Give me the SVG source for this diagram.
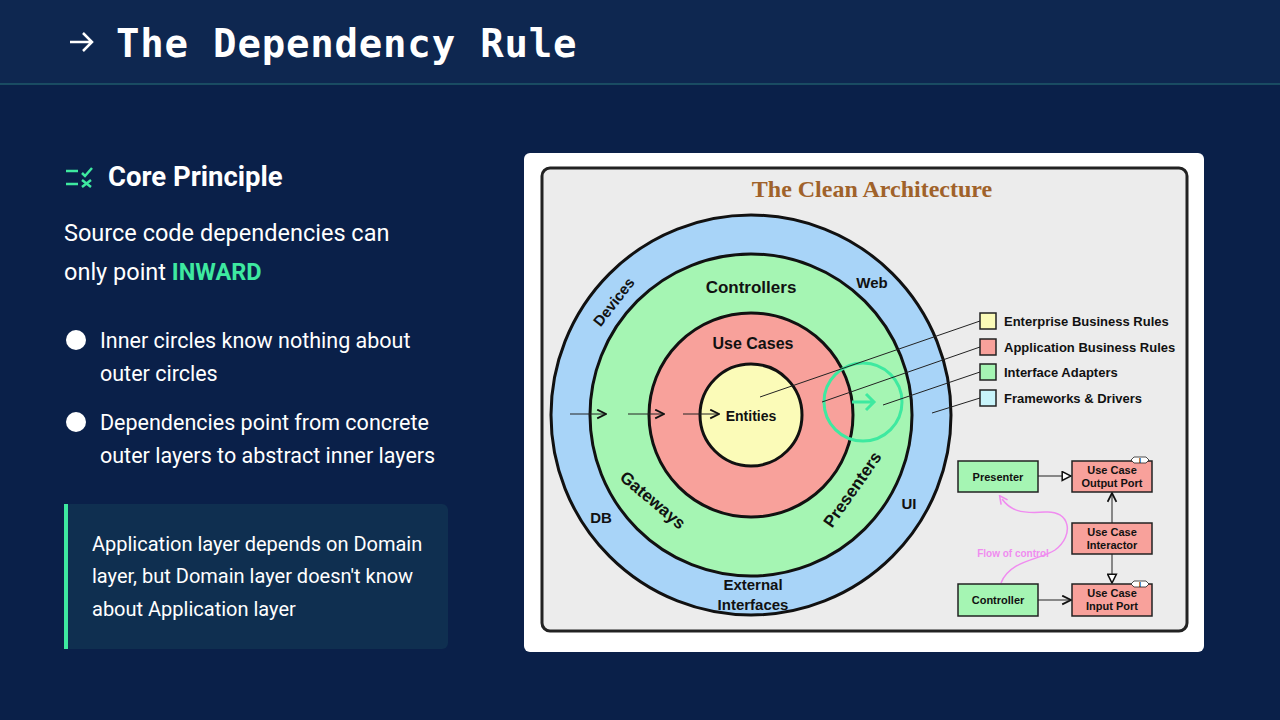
<svg xmlns="http://www.w3.org/2000/svg" width="1280" height="720" viewBox="0 0 1280 720">
<defs>
<marker id="ah" viewBox="0 0 10 10" refX="9" refY="5" markerWidth="11" markerHeight="11" markerUnits="userSpaceOnUse" orient="auto"><path d="M1,1 L9,5 L1,9" fill="none" stroke="#111" stroke-width="1.6"/></marker>
<marker id="tri" viewBox="0 0 10 10" refX="9" refY="5" markerWidth="11" markerHeight="11" markerUnits="userSpaceOnUse" orient="auto"><path d="M1,1 L9,5 L1,9 Z" fill="#fff" stroke="#111" stroke-width="1.4"/></marker>
<marker id="pk" viewBox="0 0 10 10" refX="5" refY="5" markerWidth="10" markerHeight="10" markerUnits="userSpaceOnUse" orient="auto"><path d="M1,1 L9,5 L1,9" fill="none" stroke="#f08cf0" stroke-width="1.6"/></marker>
</defs>
<style>
.w{fill:#fff;font-family:Roboto,"Liberation Sans",sans-serif}
.b{font-family:"Liberation Sans",Arial,sans-serif;font-weight:bold;fill:#111}
.ring{stroke:#111;stroke-width:3}
.box{stroke:#222;stroke-width:1.5}
.ln{stroke:#222;stroke-width:1}
.tag{fill:#fff;stroke:#222;stroke-width:0.8}
</style>
<rect width="1280" height="720" fill="#0a2049"/>
<rect width="1280" height="84" fill="#0e2750"/>
<line x1="0" y1="84" x2="1280" y2="84" stroke="#1f5a6a" stroke-width="1.5"/>
<path d="M70,42 H92 M83,33 L92,42 L83,51" fill="none" stroke="#fff" stroke-width="2.5"/>
<text x="116" y="57" font-family="'DejaVu Sans Mono','Liberation Mono',monospace" font-weight="bold" font-size="39" letter-spacing="0.8" fill="#fff">The Dependency Rule</text>

<g id="core">
<path d="M66,171 H78 M66,184 H78 M82,173 L85,176 L92,168 M82,180 L91,187 M91,180 L82,187" fill="none" stroke="#3ee9a0" stroke-width="2.5"/>
<text class="w" x="108" y="186" font-size="27.5" font-weight="bold">Core Principle</text>
<text class="w" x="64" y="241" font-size="23.5">Source code dependencies can</text>
<text class="w" x="64" y="280" font-size="23.5">only point <tspan fill="#3ee9a0" font-weight="bold">INWARD</tspan></text>
<circle cx="76" cy="340" r="10" fill="#fff"/>
<text class="w" x="100" y="348" font-size="21.5">Inner circles know nothing about</text>
<text class="w" x="100" y="381" font-size="21.5">outer circles</text>
<circle cx="76" cy="422" r="10" fill="#fff"/>
<text class="w" x="100" y="430" font-size="21.5">Dependencies point from concrete</text>
<text class="w" x="100" y="463" font-size="21.5">outer layers to abstract inner layers</text>
</g>
<g id="note">
<rect x="64" y="504" width="384" height="145" rx="6" fill="#0f2f50"/>
<rect x="64" y="504" width="4" height="145" fill="#3ee9a0"/>
<text class="w" x="92" y="551" font-size="20">Application layer depends on Domain</text>
<text class="w" x="92" y="583" font-size="20">layer, but Domain layer doesn't know</text>
<text class="w" x="92" y="616" font-size="20">about Application layer</text>
</g>

<g id="image">
<rect x="524" y="153" width="680" height="499" rx="6" fill="#fff"/>
<rect x="542" y="168" width="645" height="463" rx="8" fill="#ececec" stroke="#222" stroke-width="3"/>
<text x="872" y="197" text-anchor="middle" font-family="'Liberation Serif',serif" font-weight="bold" font-size="24" fill="#a0622a">The Clean Architecture</text>
<circle cx="751" cy="415" r="200" fill="#a8d4f8" class="ring"/>
<circle cx="751" cy="415" r="161" fill="#a5f5b3" class="ring"/>
<circle cx="751" cy="415" r="102" fill="#f8a19b" class="ring"/>
<circle cx="751" cy="415" r="51" fill="#fbfbb8" class="ring"/>
<text class="b" x="751" y="293" text-anchor="middle" font-size="17">Controllers</text>
<text class="b" x="753" y="349" text-anchor="middle" font-size="16">Use Cases</text>
<text class="b" x="751" y="421" text-anchor="middle" font-size="14">Entities</text>
<text class="b" x="872" y="288" text-anchor="middle" font-size="15">Web</text>
<text class="b" x="614" y="307" text-anchor="middle" font-size="15" transform="rotate(-52 614 302)">Devices</text>
<text class="b" x="653" y="506" text-anchor="middle" font-size="17" transform="rotate(40 653 500)">Gateways</text>
<text class="b" x="853" y="495" text-anchor="middle" font-size="17" transform="rotate(-55 853 490)">Presenters</text>
<text class="b" x="601" y="523" text-anchor="middle" font-size="15">DB</text>
<text class="b" x="909" y="509" text-anchor="middle" font-size="15">UI</text>
<text class="b" x="753" y="590" text-anchor="middle" font-size="15">External</text>
<text class="b" x="753" y="610" text-anchor="middle" font-size="15">Interfaces</text>
<circle cx="863" cy="402" r="39" fill="none" stroke="#3ee9a0" stroke-width="3"/>
<path d="M852,402 H873 M866,394 L874,402 L866,410" fill="none" stroke="#3ee9a0" stroke-width="3"/>
</g>
<g id="connectors">
<line x1="570" y1="414" x2="606" y2="414" class="ln" stroke-width="1.5" marker-end="url(#ah)"/>
<line x1="628" y1="414" x2="664" y2="414" class="ln" stroke-width="1.5" marker-end="url(#ah)"/>
<line x1="683" y1="414" x2="719" y2="414" class="ln" stroke-width="1.5" marker-end="url(#ah)"/>
<line x1="760" y1="397" x2="980" y2="321" class="ln"/>
<line x1="822" y1="402" x2="980" y2="347" class="ln"/>
<line x1="883" y1="405" x2="980" y2="372" class="ln"/>
<line x1="932" y1="413" x2="980" y2="398" class="ln"/>
<line x1="1038" y1="476" x2="1071" y2="476" class="ln" stroke-width="1.5" marker-end="url(#tri)"/>
<line x1="1112" y1="523" x2="1112" y2="493" class="ln" stroke-width="1.5" marker-end="url(#ah)"/>
<line x1="1112" y1="554" x2="1112" y2="583" class="ln" stroke-width="1.5" marker-end="url(#tri)"/>
<line x1="1038" y1="600" x2="1071" y2="600" class="ln" stroke-width="1.5" marker-end="url(#ah)"/>
<path d="M1001,583 C1010,560 1040,560 1055,550 C1075,535 1070,510 1045,512 C1020,514 1010,510 1002,499" fill="none" stroke="#f08cf0" stroke-width="1.5" marker-end="url(#pk)"/>
</g>
<g id="legend">
<rect x="980" y="313" width="16" height="16" fill="#fbfbb8" class="box"/>
<rect x="980" y="339" width="16" height="16" fill="#f8a19b" class="box"/>
<rect x="980" y="364" width="16" height="16" fill="#a5f5b3" class="box"/>
<rect x="980" y="390" width="16" height="16" fill="#c8f4fa" class="box"/>
<text class="b" x="1004" y="326" font-size="13">Enterprise Business Rules</text>
<text class="b" x="1004" y="352" font-size="13">Application Business Rules</text>
<text class="b" x="1004" y="377" font-size="13">Interface Adapters</text>
<text class="b" x="1004" y="403" font-size="13">Frameworks &amp; Drivers</text>
</g>
<g id="presenter"><rect x="958" y="461" width="80" height="31" fill="#a5f5b3" class="box"/><text class="b" x="998" y="481" text-anchor="middle" font-size="11">Presenter</text></g>
<g id="outport"><rect x="1072" y="461" width="80" height="31" fill="#f8a19b" class="box"/><text class="b" x="1112" y="474" text-anchor="middle" font-size="11">Use Case</text><text class="b" x="1112" y="487" text-anchor="middle" font-size="11">Output Port</text><path d="M1131,460 L1134,457 H1146 L1149,460 L1146,463 H1134 Z" class="tag"/><text class="b" x="1140" y="463" text-anchor="middle" font-size="7">I</text></g>
<g id="interactor"><rect x="1072" y="523" width="80" height="31" fill="#f8a19b" class="box"/><text class="b" x="1112" y="536" text-anchor="middle" font-size="11">Use Case</text><text class="b" x="1112" y="549" text-anchor="middle" font-size="11">Interactor</text></g>
<g id="inport"><rect x="1072" y="584" width="80" height="32" fill="#f8a19b" class="box"/><text class="b" x="1112" y="597" text-anchor="middle" font-size="11">Use Case</text><text class="b" x="1112" y="610" text-anchor="middle" font-size="11">Input Port</text><path d="M1131,584 L1134,581 H1146 L1149,584 L1146,587 H1134 Z" class="tag"/><text class="b" x="1140" y="587" text-anchor="middle" font-size="7">I</text></g>
<g id="controller"><rect x="958" y="584" width="80" height="32" fill="#a5f5b3" class="box"/><text class="b" x="998" y="604" text-anchor="middle" font-size="11">Controller</text></g>
<text x="1013" y="557" text-anchor="middle" font-family="'Liberation Sans',sans-serif" font-weight="bold" font-size="10" fill="#f08cf0">Flow of control</text>
</svg>
